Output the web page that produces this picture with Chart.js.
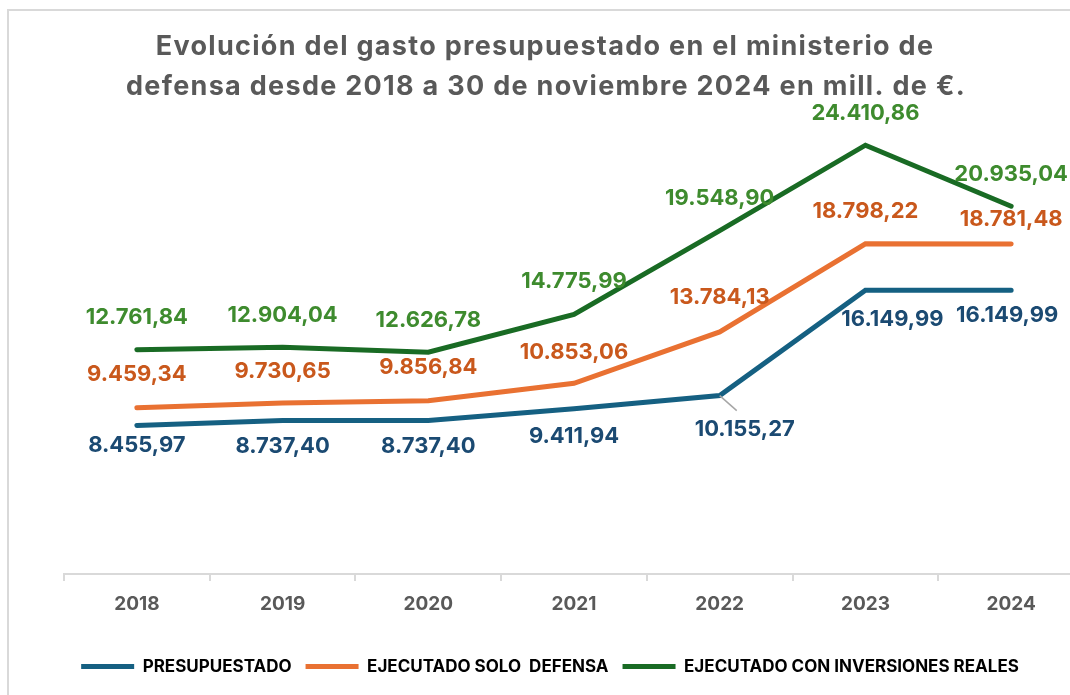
<!DOCTYPE html>
<html lang="es">
<head>
<meta charset="utf-8">
<title>Gasto ministerio de defensa</title>
<script src="https://cdn.jsdelivr.net/npm/chart.js@4.4.1/dist/chart.umd.min.js"></script>
<style>
  html, body { margin: 0; padding: 0; background: #fff; overflow: hidden; }
  #marco { position: absolute; left: 7px; top: 9px; width: 1100px; height: 720px; border: 2px solid #d9d9d9; box-sizing: border-box; }
  #grafico { position: absolute; left: 0; top: 0; }
</style>
</head>
<body>
<div id="marco"></div>
<canvas id="grafico" width="1090" height="695"></canvas>
<script>
// Datos (millones de euros)
const anios = ['2018', '2019', '2020', '2021', '2022', '2023', '2024'];
const presupuestado = [8455.97, 8737.40, 8737.40, 9411.94, 10155.27, 16149.99, 16149.99];
const ejecutadoDefensa = [9459.34, 9730.65, 9856.84, 10853.06, 13784.13, 18798.22, 18781.48];
const ejecutadoInversiones = [12761.84, 12904.04, 12626.78, 14775.99, 19548.90, 24410.86, 20935.04];
const series = ['PRESUPUESTADO', 'EJECUTADO SOLO  DEFENSA', 'EJECUTADO CON INVERSIONES REALES'];
const titulo = [
    'Evolución del gasto presupuestado en el ministerio de',
    'defensa desde 2018 a 30 de noviembre 2024 en mill. de €.'
];

// Colocación de las etiquetas respecto a cada punto [dx, dy]
const posEtiquetas = [
    [[0, 20], [0, 26], [0, 26], [0, 28], [25, 34], [27, 29], [-4, 25]],
    [[0, -33], [0, -32], [0, -33], [0, -31], [0, -34], [0, -32], [0, -25]],
    [[0, -32], [0, -32], [0, -32], [0, -33], [0, -32], [0, -32], [0, -32]]
];
const colorEtiquetas = ['#1B4A72', '#C9581C', '#3E8B2E'];

const fmt = (v) => {
    const [ent, dec] = v.toFixed(2).split('.');
    return ent.replace(/\B(?=(\d{3})+(?!\d))/g, '.') + ',' + dec;
};

Chart.defaults.font.family = 'Inter, "Liberation Sans", sans-serif';

const tituloPlugin = {
    id: 'tituloFijo',
    afterDraw(chart) {
        const ctx = chart.ctx;
        ctx.save();
        ctx.font = 'bold 27px Inter, "Liberation Sans", sans-serif';
        ctx.letterSpacing = '1.3px';
        ctx.fillStyle = '#595959';
        ctx.textAlign = 'center';
        ctx.textBaseline = 'middle';
        ctx.fillText(titulo[0], 545, 47);
        ctx.fillText(titulo[1], 546, 87);
        ctx.restore();
    }
};

const etiquetasPlugin = {
    id: 'etiquetas',
    afterDatasetsDraw(chart) {
        const ctx = chart.ctx;
        ctx.save();
        ctx.font = 'bold 22px Inter, "Liberation Sans", sans-serif';
        ctx.textAlign = 'center';
        ctx.textBaseline = 'middle';
        chart.data.datasets.forEach((ds, i) => {
            const meta = chart.getDatasetMeta(i);
            meta.data.forEach((pt, j) => {
                const [dx, dy] = posEtiquetas[i][j];
                // línea guía cuando la etiqueta queda separada del punto (2022)
                if (i === 0 && j === 4) {
                    ctx.strokeStyle = '#a6a6a6';
                    ctx.lineWidth = 1.5;
                    ctx.beginPath();
                    ctx.moveTo(pt.x, pt.y);
                    ctx.lineTo(pt.x + 17, pt.y + 15);
                    ctx.stroke();
                }
                ctx.fillStyle = colorEtiquetas[i];
                ctx.fillText(fmt(ds.data[j]), pt.x + dx, pt.y + dy);
            });
        });
        ctx.restore();
    }
};

const ctx = document.getElementById('grafico').getContext('2d');
new Chart(ctx, {
    type: 'line',
    data: {
        labels: anios,
        datasets: [
            { label: series[0], data: presupuestado, borderColor: '#156082', backgroundColor: '#156082' },
            { label: series[1], data: ejecutadoDefensa, borderColor: '#E97132', backgroundColor: '#E97132' },
            { label: series[2], data: ejecutadoInversiones, borderColor: '#196B24', backgroundColor: '#196B24' }
        ]
    },
    options: {
        responsive: false,
        animation: false,
        datasets: {
            line: { borderWidth: 5, pointRadius: 0, tension: 0, borderCapStyle: 'round' }
        },
        layout: { padding: { left: 16, right: 6, top: 47, bottom: 10 } },
        scales: {
            x: {
                offset: true,
                grid: { offset: true, drawOnChartArea: false, drawTicks: true, tickLength: 7, color: '#d9d9d9', lineWidth: 2 },
                border: { color: '#d9d9d9', width: 2 },
                ticks: { color: '#595959', font: { size: 19, weight: 'bold' }, padding: 12 },
                afterFit(scale) { scale.height = 70; }
            },
            y: {
                min: 0,
                max: 30000,
                grid: { display: false },
                border: { display: false },
                ticks: { display: false },
                afterFit(scale) { scale.width = 48; }
            }
        },
        plugins: {
            legend: {
                position: 'bottom',
                labels: {
                    usePointStyle: true,
                    pointStyle: 'line',
                    pointStyleWidth: 53,
                    color: '#000',
                    font: { size: 17, weight: 'bold' },
                    padding: 14
                }
            },
            tooltip: { enabled: false }
        }
    },
    plugins: [etiquetasPlugin, tituloPlugin]
});
</script>
</body>
</html>
